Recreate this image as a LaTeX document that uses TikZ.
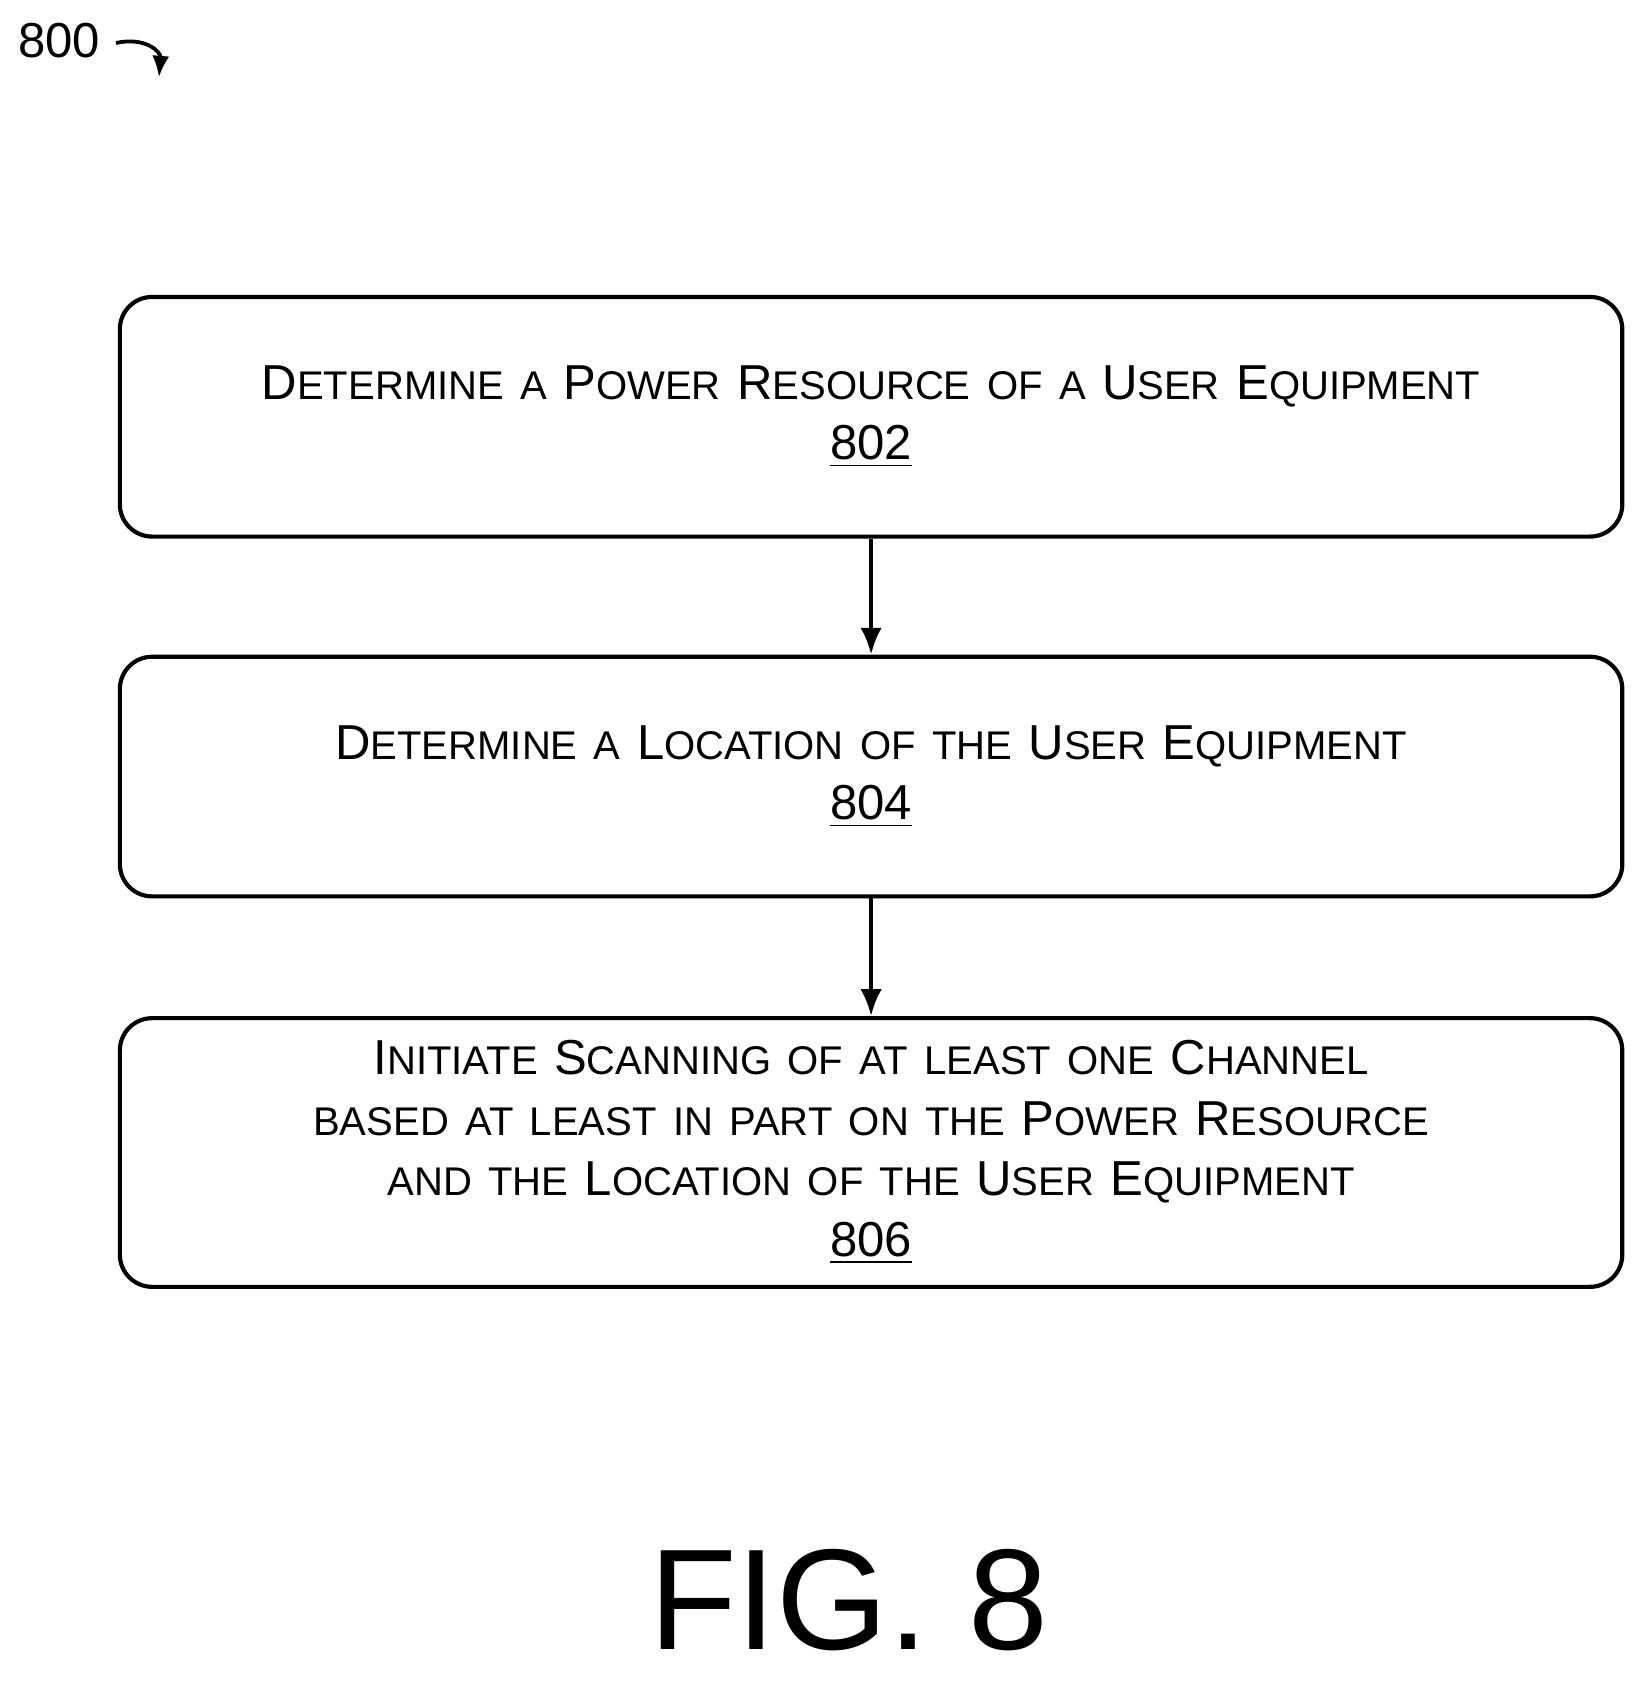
\documentclass[tikz,border=0pt]{standalone}
\usepackage{fontspec}
\setmainfont{Liberation Sans}
\usetikzlibrary{positioning,arrows.meta}
\newcommand{\sm}[1]{{\fontsize{10.6}{16}\selectfont\MakeUppercase{#1}}}
\begin{document}
\begin{tikzpicture}[x=0.01cm,y=-0.01cm]
\tikzset{stepbox/.style={draw,line width=1.1pt,rounded corners=0.3cm,minimum width=13.98cm,
  text width=13.6cm,align=center,font=\fontsize{13}{16}\selectfont},
  flow/.style={-{Latex[length=0.25cm,width=0.2cm]},line width=1.1pt}}
\useasboundingbox (0,0) rectangle (1530,1566);
\node[font=\fontsize{13}{15}\selectfont] (lbl) at (55,38) {800};
\coordinate (tip) at (148,72);
\draw[-{Latex[length=0.2cm,width=0.16cm]},line width=1pt] (108,40) .. controls (135,34) and (150,48) .. (tip);
\node[stepbox,minimum height=2.23cm] (s802) at (811,388) {D\sm{etermine a} P\sm{ower} R\sm{esource of a} U\sm{ser} E\sm{quipment}\\\underline{802}};
\node[stepbox,minimum height=2.23cm] (s804) at (811,723) {D\sm{etermine a} L\sm{ocation of the} U\sm{ser} E\sm{quipment}\\\underline{804}};
\node[stepbox,minimum height=2.5cm] (s806) at (811,1073) {I\sm{nitiate} S\sm{canning of at least one} C\sm{hannel based at least in part on the} P\sm{ower} R\sm{esource and the} L\sm{ocation of the} U\sm{ser} E\sm{quipment}\\\underline{806}};
\draw[flow] (s802) -- (s804);
\draw[flow] (s804) -- (s806);
\node[font=\fontsize{38}{42}\selectfont] (fig) at (790,1490) {FIG. 8};
\end{tikzpicture}
\end{document}
